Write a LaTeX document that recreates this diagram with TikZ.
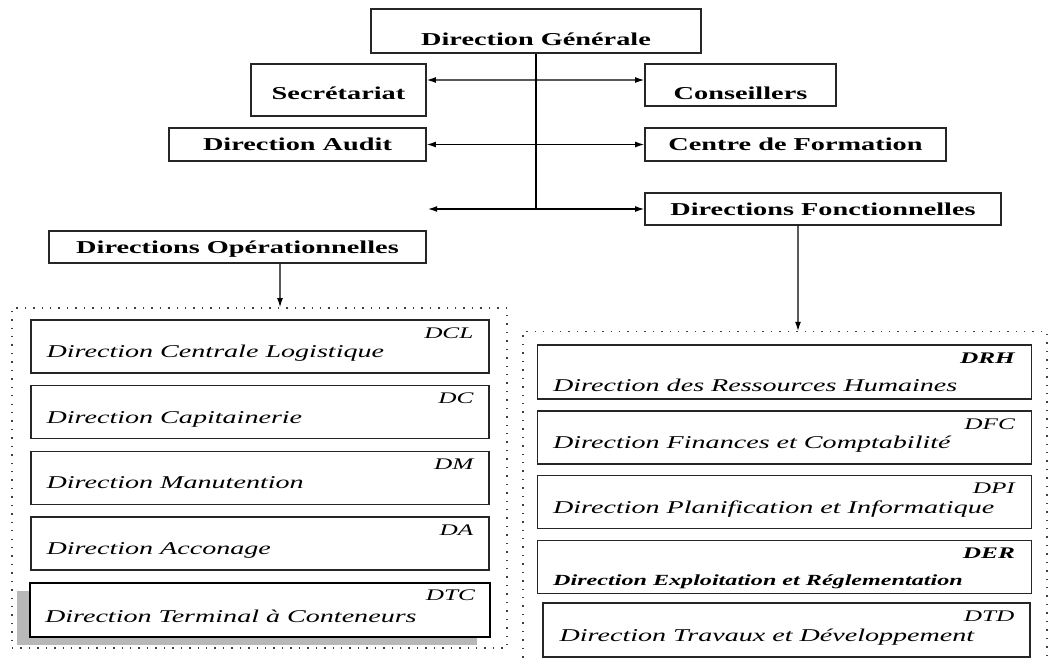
\documentclass[tikz,border=0pt]{standalone}
\usepackage{fontspec}
\setmainfont{Liberation Serif}[FakeStretch=1.56]
\usetikzlibrary{arrows.meta,positioning,calc,shadows}

\newcommand{\headfont}{\fontsize{12.9}{15}\selectfont\bfseries}
\newcommand{\unitfont}{\fontsize{12.8}{15}\selectfont\itshape}
\newcommand{\abbrfont}{\fontsize{11.5}{14}\selectfont\itshape}

\tikzset{
  >=Latex,
  every picture/.append style={line width=0.6pt},
}
\tikzset{
  head/.style={draw=black!85, line width=1pt, inner sep=0pt, font=\headfont, text height=0.3cm, text depth=0pt},
  unit/.style={draw=black!85, line width=1pt, inner sep=0pt, minimum height=1.325cm},
  uname/.style={anchor=base west, inner sep=0pt, font=\unitfont},
  uabbr/.style={anchor=base east, inner sep=0pt, font=\abbrfont},
  arr/.style={-{Latex[length=2.3mm,width=1.5mm]}, line width=0.9pt},
  dual/.style={{Latex[length=2.3mm,width=1.5mm]}-{Latex[length=2.3mm,width=1.5mm]}, line width=0.9pt},
  group/.style={draw=black!75, line width=1pt, dash pattern=on 1pt off 5pt, inner sep=0pt}
}

\begin{document}
\begin{tikzpicture}[x=0.025cm, y=-0.025cm, node distance=0.28cm]
\clip (0,0) rectangle (1051,660);

% General management and staff units
\node[head, minimum width=8.25cm, minimum height=1.1cm, text height=0.7cm] (dg) at (536,31) {Direction Générale};
\node[head, minimum width=4.375cm, minimum height=1.3cm, text height=0.45cm] (sec) at (338.5,90) {Secrétariat};
\node[head, minimum width=4.775cm, minimum height=1.05cm, text height=0.7cm] (cons) at (740.5,85) {Conseillers};
\node[head, minimum width=6.425cm, minimum height=0.825cm] (audit) at (297.5,144.5) {Direction Audit};
\node[head, minimum width=7.525cm, minimum height=0.825cm] (cdf) at (795.5,144.5) {Centre de Formation};
\node[head, minimum width=8.9cm, minimum height=0.8cm] (dfo) at (823,209) {Directions Fonctionnelles};
\node[head, minimum width=9.425cm, minimum height=0.8cm] (dop) at (237.5,247) {Directions Opérationnelles};

% Trunk and side links
\coordinate (hub) at (dg.south |- dfo.west);
\coordinate (opend) at (428,209);
\draw[line width=0.9pt] (dg.south) -- (hub);
\draw[dual] ([yshift=0.25cm]sec.east) -- ([yshift=0.125cm]cons.west);
\draw[dual] (audit.east) -- (cdf.west);
\draw[arr] (hub) -- (opend);
\draw[arr] (hub) -- (dfo.west);

% Dotted groups
\node[group, minimum width=12.375cm, minimum height=8.5cm] (opgrp) at (259.5,478) {};
\node[group, minimum width=13.1cm, minimum height=8.5cm, anchor=north] (fngrp) at (785,331) {};
\draw[arr] ([xshift=1.0625cm]dop.south) -- ([xshift=0.5125cm]opgrp.north);
\draw[arr] ([xshift=-0.625cm]dfo.south) -- ([xshift=0.325cm]fngrp.north);

% Operational directions (left column)
\node[unit, minimum width=11.45cm] (dcl) at (260,346.5) {};
\node[unit, minimum width=11.45cm, below=of dcl] (dc) {};
\node[unit, minimum width=11.45cm, below=of dc] (dm) {};
\node[unit, minimum width=11.45cm, below=of dm] (da) {};
\node[unit, minimum width=11.5cm, minimum height=1.35cm, line width=1.8pt, draw=black, fill=white,
  drop shadow={shadow xshift=-0.325cm, shadow yshift=-0.2cm, fill=black!28, opacity=1}, below=of da] (dtc) {};

\node[uname] (dcltxt) at ($(dcl.south west)+(16,-16)$) {Direction Centrale Logistique};
\node[uabbr] (dclabbr) at ($(dcl.north east)+(-16,19)$) {DCL};
\node[uname] (dctxt) at ($(dc.south west)+(16,-16)$) {Direction Capitainerie};
\node[uabbr] (dcabbr) at ($(dc.north east)+(-16,19)$) {DC};
\node[uname] (dmtxt) at ($(dm.south west)+(16,-16)$) {Direction Manutention};
\node[uabbr] (dmabbr) at ($(dm.north east)+(-16,19)$) {DM};
\node[uname] (datxt) at ($(da.south west)+(16,-16)$) {Direction Acconage};
\node[uabbr] (daabbr) at ($(da.north east)+(-16,19)$) {DA};
\node[uname] (dtctxt) at ($(dtc.south west)+(16,-16)$) {Direction Terminal à Conteneurs};
\node[uabbr] (dtcabbr) at ($(dtc.north east)+(-16,19)$) {DTC};

% Functional directions (right column)
\node[unit, minimum width=12.35cm, minimum height=1.35cm] (drh) at (784.5,372) {};
\node[unit, minimum width=12.35cm, below=0.26cm of drh] (dfc) {};
\node[unit, minimum width=12.35cm, below=0.26cm of dfc] (dpi) {};
\node[unit, minimum width=12.35cm, below=0.26cm of dpi] (der) {};
\node[unit, minimum width=12.175cm, minimum height=1.35cm, below=0.2cm of der, xshift=0.05cm] (dtd) {};

\node[uname] (drhtxt) at ($(drh.south west)+(16,-8)$) {Direction des Ressources Humaines};
\node[uabbr, font=\abbrfont\bfseries] (drhabbr) at ($(drh.north east)+(-17,19)$) {DRH};
\node[uname] (dfctxt) at ($(dfc.south west)+(16,-16)$) {Direction Finances et Comptabilité};
\node[uabbr] (dfcabbr) at ($(dfc.north east)+(-17,19)$) {DFC};
\node[uname] (dpitxt) at ($(dpi.south west)+(16,-16)$) {Direction Planification et Informatique};
\node[uabbr] (dpiabbr) at ($(dpi.north east)+(-17,19)$) {DPI};
\node[uname, font=\fontsize{11}{13}\selectfont\bfseries\itshape] (dertxt) at ($(der.south west)+(16,-9)$) {Direction Exploitation et Réglementation};
\node[uabbr, font=\abbrfont\bfseries] (derabbr) at ($(der.north east)+(-17,19)$) {DER};
\node[uname] (dtdtxt) at ($(dtd.south west)+(17,-16)$) {Direction Travaux et Développement};
\node[uabbr] (dtdabbr) at ($(dtd.north east)+(-16,19)$) {DTD};

\end{tikzpicture}
\end{document}
